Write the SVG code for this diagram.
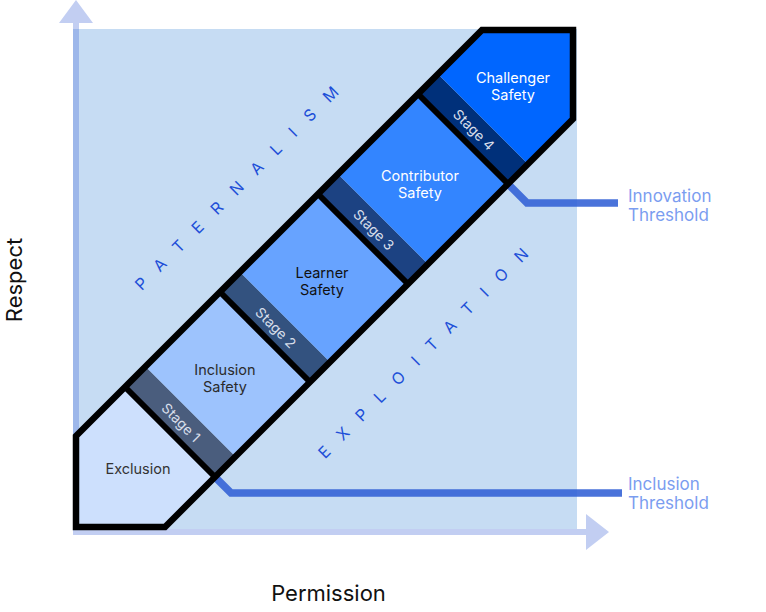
<svg xmlns="http://www.w3.org/2000/svg" width="766" height="612" viewBox="0 0 766 612">
<style>
.lbl{font-family:Inter,"Liberation Sans",sans-serif;font-size:14.5px;text-anchor:middle}
.stage{font-family:Inter,"Liberation Sans",sans-serif;font-size:14px;text-anchor:middle;fill:#D7DEEA}
.zone{font-family:Inter,"Liberation Sans",sans-serif;font-size:16px;fill:#1D4FD8;text-anchor:middle}
.thr{font-family:Inter,"Liberation Sans",sans-serif;font-size:17px;fill:#7B9DF0}
.axis{font-family:Inter,"Liberation Sans",sans-serif;font-size:22px;fill:#111;text-anchor:middle}
.div{stroke:#000;stroke-width:6;fill:none}
.conn{fill:none;stroke:#2F5ED4;stroke-opacity:0.87;stroke-width:7.5;stroke-linejoin:miter}
.ax{fill:#5173DB;fill-opacity:0.35}
</style>
<defs>
<clipPath id="band"><polygon points="76,436 482,30 573,30 573,119 165,527 76,527"/></clipPath>
</defs>
<rect x="73" y="29" width="504" height="500" fill="#C6DCF3"/>
<g id="axes">
<path class="ax" d="M73,23H79V529H73Z M59,23L76,0L93,23Z"/>
<path class="ax" d="M73,529H586V535H73Z M586,514L609,532L586,550Z"/>
</g>
<g id="connectors">
<polyline class="conn" points="214,476 231,493 622,493"/>
<polyline class="conn" points="507,183 527,203 618,203"/>
</g>
<g clip-path="url(#band)">
<g id="exclusion"><polygon points="-30,430 170,630 269,531 69,331" fill="#CDE0FD"/></g>
<g id="stage1-strip"><polygon points="69,331 269,531 289.5,510.5 89.5,310.5" fill="#4A5D7D"/></g>
<g id="inclusion"><polygon points="89.5,310.5 289.5,510.5 364,436 164,236" fill="#9DC3FD"/></g>
<g id="stage2-strip"><polygon points="164,236 364,436 384,416 184,216" fill="#33527F"/></g>
<g id="learner"><polygon points="184,216 384,416 462,338 262,138" fill="#67A3FF"/></g>
<g id="stage3-strip"><polygon points="262,138 462,338 482,318 282,118" fill="#1C4282"/></g>
<g id="contributor"><polygon points="282,118 482,318 562,238 362,38" fill="#3385FF"/></g>
<g id="stage4-strip"><polygon points="362,38 562,238 582,218 382,18" fill="#00307A"/></g>
<g id="challenger"><polygon points="382,18 582,218 700,100 500,-100" fill="#0066FF"/></g>
</g>
<g id="dividers">
<line class="div" x1="125" y1="387" x2="215" y2="477"/>
<line class="div" x1="220" y1="292" x2="310" y2="382"/>
<line class="div" x1="318" y1="194" x2="408" y2="284"/>
<line class="div" x1="418" y1="94" x2="508" y2="184"/>
</g>
<polygon points="76,436 482,30 573,30 573,119 165,527 76,527" fill="none" stroke="#000" stroke-width="6.5" stroke-linejoin="miter"/>
<g id="labels">
<text class="lbl" x="138" y="474" fill="#333">Exclusion</text>
<text class="lbl" x="225" y="375" fill="#2B2B2B">Inclusion<tspan x="225" dy="17">Safety</tspan></text>
<text class="lbl" x="322" y="278" fill="#111">Learner<tspan x="322" dy="17">Safety</tspan></text>
<text class="lbl" x="420" y="181" fill="#FFF">Contributor<tspan x="420" dy="17">Safety</tspan></text>
<text class="lbl" x="513" y="83" fill="#FFF">Challenger<tspan x="513" dy="17">Safety</tspan></text>
<text class="stage" transform="translate(181,422.5) rotate(45)" y="5">Stage 1</text>
<text class="stage" transform="translate(275.75,327.75) rotate(45)" y="5">Stage 2</text>
<text class="stage" transform="translate(373.75,229.75) rotate(45)" y="5">Stage 3</text>
<text class="stage" transform="translate(473.75,129.75) rotate(45)" y="5">Stage 4</text>
<text class="zone" transform="translate(236.5,188) rotate(-45)" x="8.5" y="6" letter-spacing="17">PATERNALISM</text>
<text class="zone" transform="translate(423,353) rotate(-45)" x="8" y="6" letter-spacing="16">EXPLOITATION</text>
<text class="thr" x="628" y="202">Innovation<tspan x="628" dy="19">Threshold</tspan></text>
<text class="thr" x="628" y="490">Inclusion<tspan x="628" dy="19">Threshold</tspan></text>
<text class="axis" x="328.5" y="601">Permission</text>
<text class="axis" transform="translate(22,280) rotate(-90)">Respect</text>
</g>
</svg>
